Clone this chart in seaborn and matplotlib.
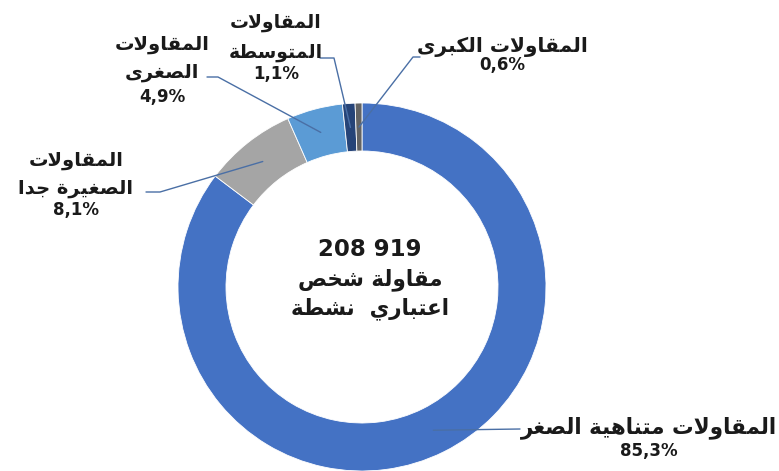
import matplotlib
matplotlib.use("Agg")
import matplotlib.pyplot as plt
import seaborn as sns
import numpy as np

# ---- data -------------------------------------------------------------
categories = [
    "المقاولات متناهية الصغر",
    "المقاولات الصغيرة جدا",
    "المقاولات الصغرى",
    "المقاولات المتوسطة",
    "المقاولات الكبرى",
]
shares = [85.3, 8.1, 4.9, 1.1, 0.6]
share_labels = ["85,3%", "8,1%", "4,9%", "1,1%", "0,6%"]
# line breaks used when printing each category name
label_lines = [
    ["المقاولات متناهية الصغر"],
    ["المقاولات", "الصغيرة جدا"],
    ["المقاولات", "الصغرى"],
    ["المقاولات", "المتوسطة"],
    ["المقاولات الكبرى"],
]
center_lines = ["208 919", "مقاولة شخص", "اعتباري  نشطة"]
colors = ["#4472C4", "#A5A5A5", "#5B9BD5", "#264478", "#636363"]

# ---- minimal Arabic shaping (matplotlib has no complex text layout) ----
# letter: (isolated, final, initial, medial); None for non-joining-left
FORMS = {
    "ا": (0xFE8D, 0xFE8E, None, None),
    "ب": (0xFE8F, 0xFE90, 0xFE91, 0xFE92),
    "ة": (0xFE93, 0xFE94, None, None),
    "ت": (0xFE95, 0xFE96, 0xFE97, 0xFE98),
    "ج": (0xFE9D, 0xFE9E, 0xFE9F, 0xFEA0),
    "ح": (0xFEA1, 0xFEA2, 0xFEA3, 0xFEA4),
    "خ": (0xFEA5, 0xFEA6, 0xFEA7, 0xFEA8),
    "د": (0xFEA9, 0xFEAA, None, None),
    "ر": (0xFEAD, 0xFEAE, None, None),
    "س": (0xFEB1, 0xFEB2, 0xFEB3, 0xFEB4),
    "ش": (0xFEB5, 0xFEB6, 0xFEB7, 0xFEB8),
    "ص": (0xFEB9, 0xFEBA, 0xFEBB, 0xFEBC),
    "ط": (0xFEC1, 0xFEC2, 0xFEC3, 0xFEC4),
    "ع": (0xFEC9, 0xFECA, 0xFECB, 0xFECC),
    "غ": (0xFECD, 0xFECE, 0xFECF, 0xFED0),
    "ق": (0xFED5, 0xFED6, 0xFED7, 0xFED8),
    "ك": (0xFED9, 0xFEDA, 0xFEDB, 0xFEDC),
    "ل": (0xFEDD, 0xFEDE, 0xFEDF, 0xFEE0),
    "م": (0xFEE1, 0xFEE2, 0xFEE3, 0xFEE4),
    "ن": (0xFEE5, 0xFEE6, 0xFEE7, 0xFEE8),
    "ه": (0xFEE9, 0xFEEA, 0xFEEB, 0xFEEC),
    "و": (0xFEED, 0xFEEE, None, None),
    "ى": (0xFEEF, 0xFEF0, None, None),
    "ي": (0xFEF1, 0xFEF2, 0xFEF3, 0xFEF4),
}


def joins_left(ch):
    return ch in FORMS and FORMS[ch][2] is not None


def shape(text):
    if not any(ch in FORMS for ch in text):
        return text
    out = []
    i = 0
    n = len(text)
    while i < n:
        ch = text[i]
        if ch not in FORMS:
            out.append(ch)
            i += 1
            continue
        prev_joins = i > 0 and joins_left(text[i - 1])
        # lam-alef ligature
        if ch == "ل" and i + 1 < n and text[i + 1] == "ا":
            out.append(chr(0xFEFC if prev_joins else 0xFEFB))
            i += 2
            continue
        next_joins = joins_left(ch) and i + 1 < n and text[i + 1] in FORMS
        iso, fin, ini, med = FORMS[ch]
        if prev_joins and next_joins:
            code = med
        elif prev_joins:
            code = fin
        elif next_joins:
            code = ini
        else:
            code = iso
        out.append(chr(code))
        i += 1
    return "".join(out)[::-1]


# ---- figure -------------------------------------------------------------
sns.set_theme(style="white")
plt.rcParams["font.family"] = ["DejaVu Sans"]

W, H = 779, 471
fig = plt.figure(figsize=(W / 100, H / 100), dpi=100)
ax = fig.add_axes([0, 0, 1, 1])

cx, cy = 362, H - 287
r_out, ring = 184, 48

wedges, _ = ax.pie(
    shares,
    colors=colors,
    startangle=90,
    counterclock=False,
    center=(cx, cy),
    radius=r_out,
    wedgeprops=dict(width=ring, edgecolor="white", linewidth=0.6),
    frame=True,
)
ax.set_xlim(0, W)
ax.set_ylim(0, H)
ax.axis("off")

# label layout: elbow points and text anchor (pixel rows from top) per wedge
line_col = "#4a6fa5"
text_col = "#1a1a1a"
layout = [
    dict(path=[(520, 429)], text_x=649, text_y=[428], pct_y=451, size=15.5),
    dict(path=[(160, 192), (146, 192)], text_x=76, text_y=[160, 188], pct_y=210, size=14),
    dict(path=[(218, 77), (207, 77)], text_x=162, text_y=[45, 73], pct_y=97, size=14),
    dict(path=[(334, 58), (320, 58)], text_x=276, text_y=[22, 52], pct_y=74, size=13.5),
    dict(path=[(413, 57), (420, 57)], text_x=502, text_y=[47], pct_y=65, size=14.5),
]

r_mid = r_out - ring / 2
for w, lines, pct, lay in zip(wedges, label_lines, share_labels, layout):
    ang = np.deg2rad((w.theta1 + w.theta2) / 2)
    ax_, ay_ = cx + r_mid * np.cos(ang), cy + r_mid * np.sin(ang)
    xs = [ax_] + [p[0] for p in lay["path"]]
    ys = [ay_] + [H - p[1] for p in lay["path"]]
    ax.plot(xs, ys, color=line_col, lw=1.0, zorder=3)
    for ln, ty in zip(lines, lay["text_y"]):
        ax.text(lay["text_x"], H - ty, shape(ln), ha="center", va="center",
                fontsize=lay["size"], fontweight="bold", color=text_col)
    ax.text(lay["text_x"], H - lay["pct_y"], pct, ha="center", va="center",
            fontsize=12, fontweight="bold", color=text_col)

for ln, ty, fs in zip(center_lines, [250, 280, 309], [16.5, 15.5, 15.5]):
    ax.text(370, H - ty, shape(ln), ha="center", va="center",
            fontsize=fs, fontweight="bold", color=text_col)

fig.savefig("out.png", dpi=100)
